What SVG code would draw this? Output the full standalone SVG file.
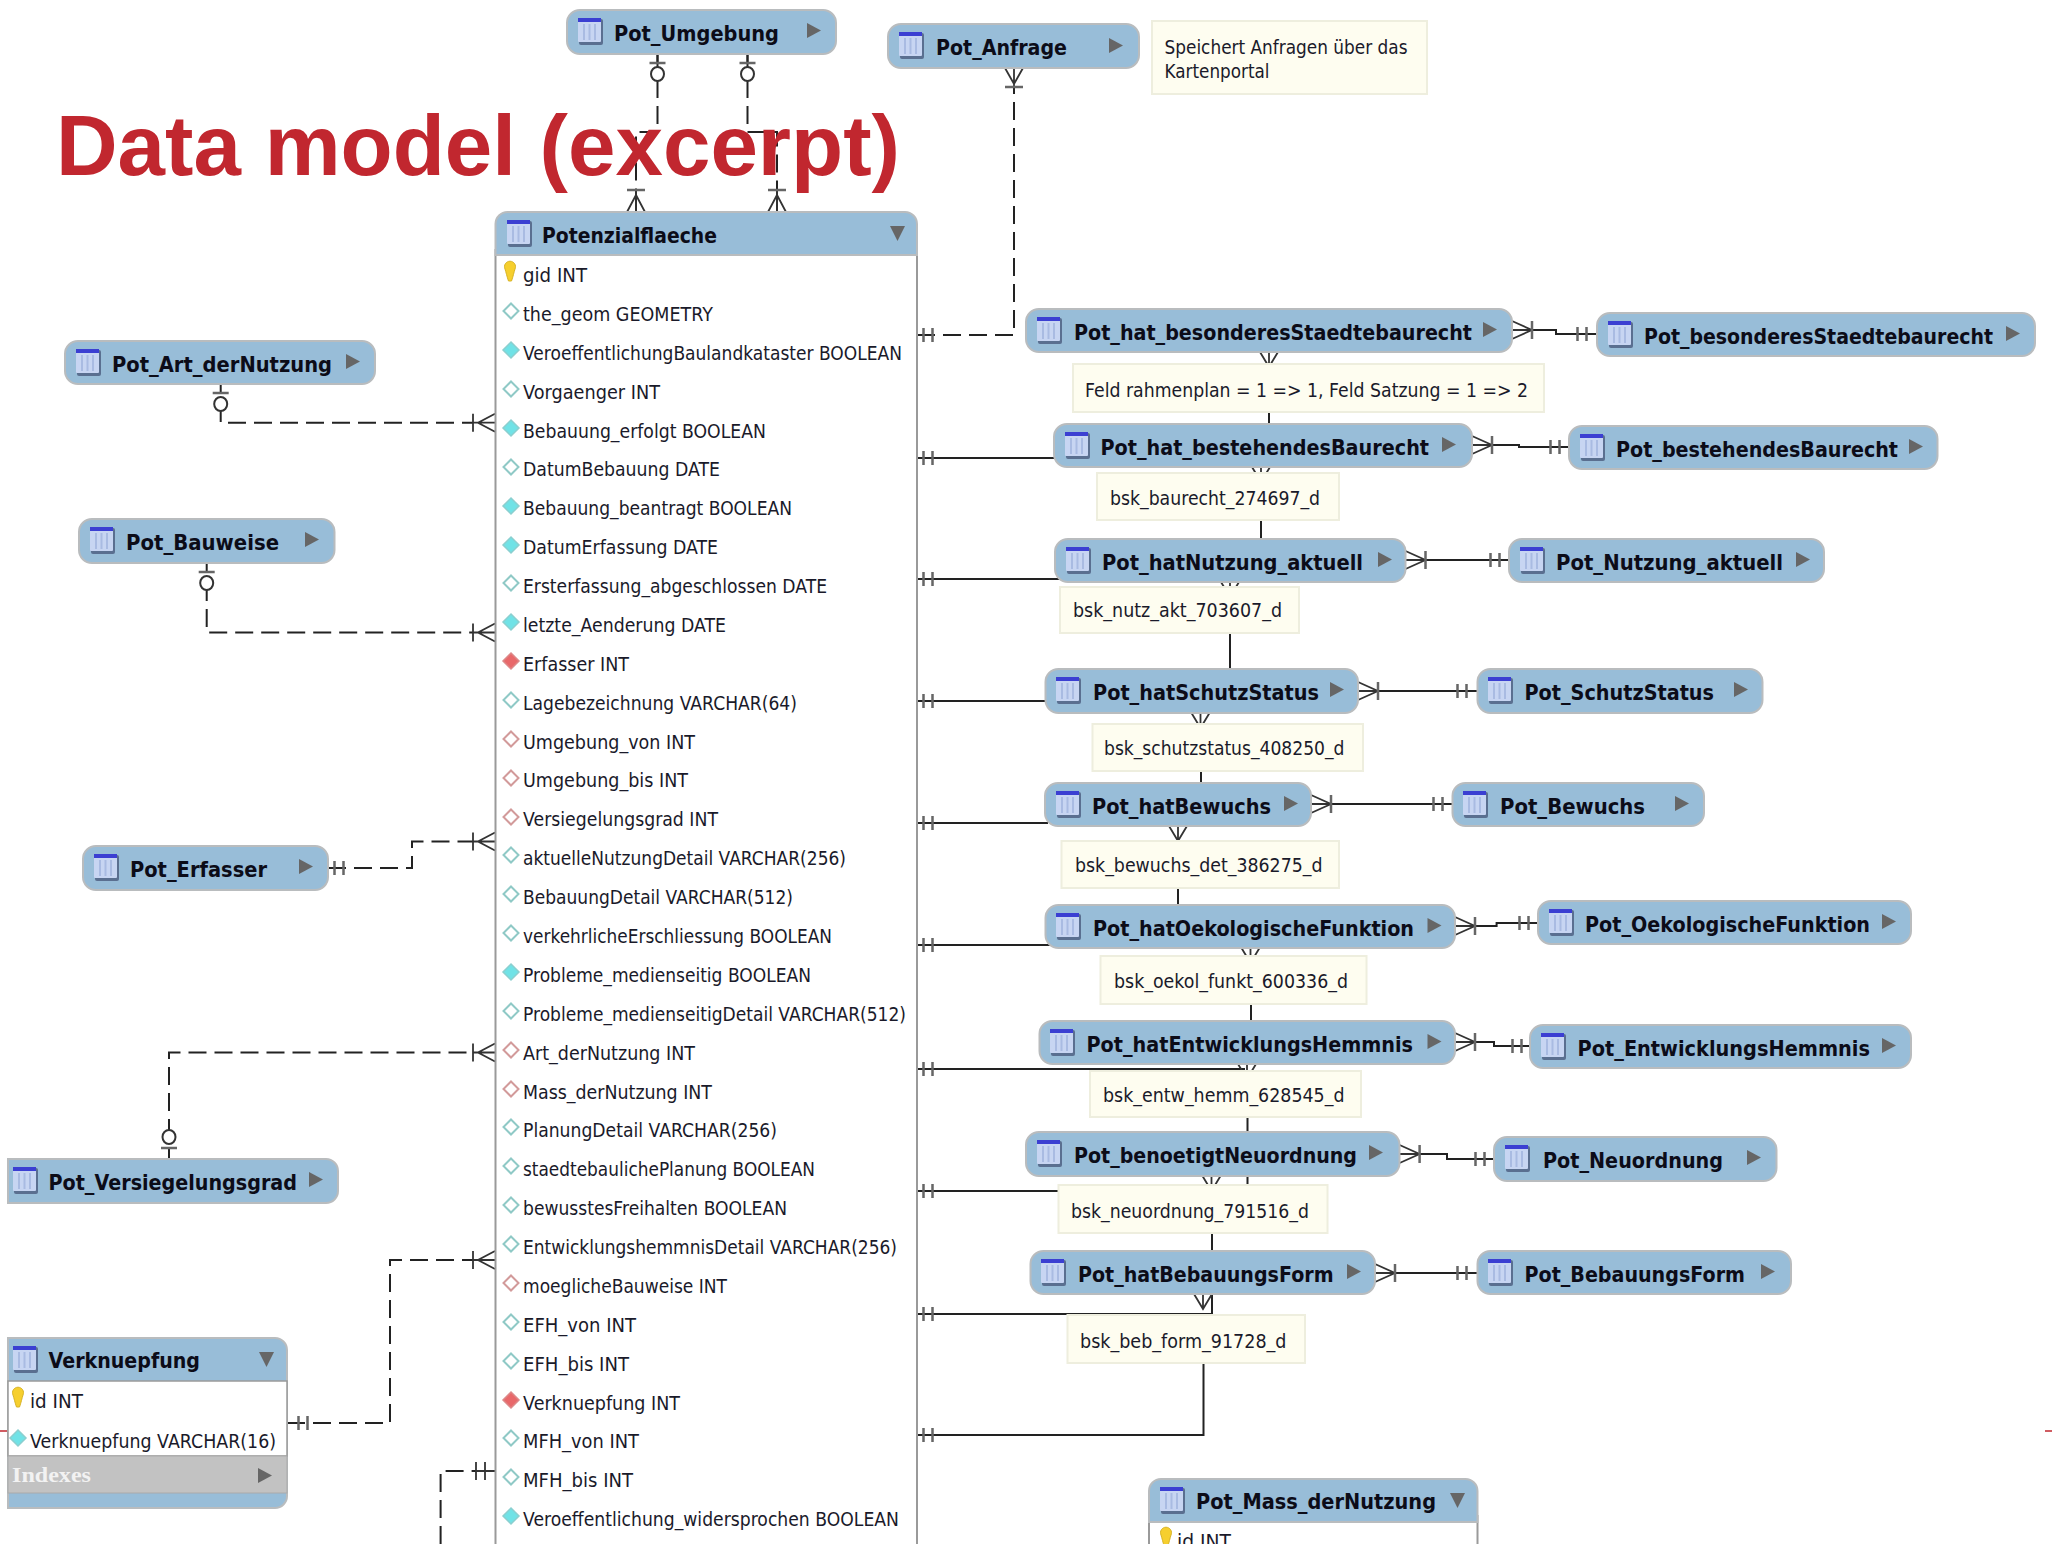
<svg xmlns="http://www.w3.org/2000/svg" width="2052" height="1544" viewBox="0 0 2052 1544">
<style>
text{font-family:"DejaVu Sans","Liberation Sans",sans-serif;fill:#1a1a2a}
.h{font-size:20.5px;font-weight:bold;fill:#0c0c18}
.r{font-size:19px}
.n{font-size:19px}
.idx{font-family:"Liberation Serif",serif;font-size:21px;font-weight:bold;fill:#f2f2f2}
.title{font-family:"Liberation Sans",Arial,sans-serif;font-size:85px;font-weight:bold;fill:#c1272f}
.b{fill:#98bdd8;stroke:#b9bcbe;stroke-width:2}
.note{fill:#fefdf0;stroke:#eeeede;stroke-width:2}
.body{fill:#fff;stroke:#9a9a9a;stroke-width:2}
.s{fill:none;stroke:#222;stroke-width:2}
.d{fill:none;stroke:#222;stroke-width:2;stroke-dasharray:18 8}
.c{fill:none;stroke:#333;stroke-width:1.8}
.g{fill:none;stroke:#666;stroke-width:2.5}
.red{fill:none;stroke:#c1272f;stroke-width:1.5}
</style>
<defs>
<g id="ico"><rect x="1" y="1" width="24" height="26" rx="2" fill="#5a6f90"/><rect width="23" height="24" rx="1" fill="#c7d5f2"/><rect width="23" height="4" fill="#3b3fd2"/><path d="M6 6V22M11.500 6V22M17 6V22" stroke="#a9bbe2" stroke-width="2"/></g>
<polygon id="ar" points="0,0 14,7.500 0,15" fill="#666"/>
<polygon id="ad" points="0,0 15,0 7.500,15" fill="#666"/>
<path id="dh" d="M0,-7.500L7.500,0L0,7.500L-7.500,0Z" fill="#fff" stroke="#8fc9c6" stroke-width="2"/>
<path id="dr" d="M0,-7.500L7.500,0L0,7.500L-7.500,0Z" fill="#fff" stroke="#d29a9a" stroke-width="2"/>
<path id="df" d="M0,-8L8,0L0,8L-8,0Z" fill="#70e2e6" stroke="#8ccfcf" stroke-width="1.500"/>
<path id="dx" d="M0,-8L8,0L0,8L-8,0Z" fill="#e8686a" stroke="#d88" stroke-width="1.500"/>
<path id="key" d="M-5,-13a5.500,5.500 0 1 1 10,0c-1,3 -2,8 -3.500,12l-3,0c-1.500,-4 -2.500,-9 -3.500,-12Z" fill="#f6cf2e" stroke="#d8b324" stroke-width="1"/>
<g id="cr"><path class="c" d="M0,-9L20,0L0,9M0,0H20"/><path class="g" d="M20,-9V9"/></g>
<g id="cd"><path class="c" d="M-9,0L0,15L9,0M0,0V15"/></g>
<g id="cl"><path class="c" d="M0,-9L-17,0L0,9M0,0H-22"/><path class="c" d="M-22,-9V9"/></g>
<g id="cu"><path class="c" d="M-9,0L0,-17L9,0M0,0V-22"/><path class="g" d="M-9,-22H9"/></g>
<g id="db"><path class="g" d="M-4.500,-7V7M4.500,-7V7"/></g>
<g id="zo"><path class="g" d="M-8,-11H8"/><ellipse rx="6.500" ry="7" fill="#fff" stroke="#333" stroke-width="2"/></g>
</defs>
<g id="connectors">
<path class="d" d="M657.500,54V132H636V190"/>
<path class="d" d="M747.500,54V132H777V190"/>
<path class="s" d="M657.500,54V62M747.500,54V62M636,190V212M777,190V212"/>
<use href="#zo" x="657.500" y="74"/><use href="#zo" x="747.500" y="74"/>
<use href="#cu" x="636" y="212"/><use href="#cu" x="777" y="212"/>
<path class="d" d="M917,335H1014V88"/>
<path class="c" d="M1005,68L1014,84L1023,68M1014,68V88"/><path class="g" d="M1005,87H1023"/>
<use href="#db" x="928" y="335"/>
<path class="d" d="M220.700,404V422.700H473"/><path class="s" d="M220.700,384V394"/>
<use href="#zo" x="220.700" y="404"/><use href="#cl" x="495" y="422.700"/>
<path class="d" d="M206.700,583V632.500H473"/><path class="s" d="M206.700,562V572"/>
<use href="#zo" x="206.700" y="583"/><use href="#cl" x="495" y="632.500"/>
<path class="d" d="M328,868H412V841.500H473"/>
<use href="#db" x="339" y="868"/><use href="#cl" x="495" y="841.500"/>
<path class="d" d="M169,1137V1052.500H473"/><path class="s" d="M169,1158V1148"/>
<use href="#zo" transform="translate(169,1137) scale(1,-1)"/><use href="#cl" x="495" y="1052.500"/>
<path class="d" d="M287,1423H390V1260H473"/>
<use href="#db" x="303" y="1423"/><use href="#cl" x="495" y="1260"/>
<path class="d" d="M440.600,1544V1471H476"/><path class="c" d="M476,1471H495M476,1462V1480M485,1462V1480"/>
<path class="s" d="M917,458H1054M917,579H1060M917,701H1046M917,823H1048M917,945H1050M917,1069H1245M917,1191H1060M917,1314H1212V1294M917,1435H1203.500V1363"/>
<use href="#db" x="928" y="458"/><use href="#db" x="928" y="579"/><use href="#db" x="928" y="701"/><use href="#db" x="928" y="823"/><use href="#db" x="928" y="945"/><use href="#db" x="928" y="1069"/><use href="#db" x="928" y="1191"/><use href="#db" x="928" y="1314"/><use href="#db" x="928" y="1435"/>
<path class="s" d="M1269,364V424M1261,473V539M1230,587V669M1201,725V783M1178,841V905M1251,956V1021M1247.500,1071V1185M1212,1186V1251"/>
<use href="#cd" x="1269" y="352"/><use href="#cd" x="1261" y="467"/><use href="#cd" x="1230" y="582"/><use href="#cd" x="1200.500" y="713"/><use href="#cd" x="1178" y="826"/><use href="#cd" x="1250.500" y="948"/><use href="#cd" x="1247" y="1064"/><use href="#cd" x="1211.500" y="1176"/><use href="#cd" x="1203" y="1294"/>
<path class="s" d="M1532,330H1556V334H1597M1491,445H1519V447H1569M1425,560H1509M1378,691H1477.500M1332,804H1452.500M1475,926H1496.600V923H1538M1475,1042H1494V1046H1530M1419,1154H1447V1159H1494M1396,1273H1477.500"/>
<use href="#cr" x="1512" y="330"/><use href="#cr" x="1472" y="445"/><use href="#cr" x="1405.500" y="560"/><use href="#cr" x="1358" y="691"/><use href="#cr" x="1311" y="804"/><use href="#cr" x="1455" y="926"/><use href="#cr" x="1455" y="1042"/><use href="#cr" x="1399.600" y="1154"/><use href="#cr" x="1375" y="1273"/>
<use href="#db" x="1582" y="334"/><use href="#db" x="1555" y="447"/><use href="#db" x="1495" y="560"/><use href="#db" x="1462" y="691"/><use href="#db" x="1438" y="804"/><use href="#db" x="1524" y="923"/><use href="#db" x="1517" y="1046"/><use href="#db" x="1480" y="1159"/><use href="#db" x="1462" y="1273"/>
<path class="red" d="M0,1431H8M2045,1431H2052"/>
</g>
<g id="Pot_Umgebung"><rect class="b" x="567" y="10" width="269" height="44" rx="13"/><use href="#ico" x="578" y="18"/><text class="h" x="614" y="41" textLength="165" lengthAdjust="spacingAndGlyphs">Pot_Umgebung</text><use href="#ar" x="807" y="23"/></g>
<g id="Pot_Anfrage"><rect class="b" x="888" y="24" width="251" height="44" rx="13"/><use href="#ico" x="899" y="32"/><text class="h" x="936" y="55" textLength="131" lengthAdjust="spacingAndGlyphs">Pot_Anfrage</text><use href="#ar" x="1109" y="38"/></g>
<g id="note_anfrage"><rect class="note" x="1152" y="21" width="275" height="73"/><text class="n" x="1164.500" y="54" textLength="243" lengthAdjust="spacingAndGlyphs">Speichert Anfragen über das</text><text class="n" x="1164.500" y="78" textLength="105" lengthAdjust="spacingAndGlyphs">Kartenportal</text></g>
<g id="Potenzialflaeche"><rect class="body" x="495.500" y="250" width="421.500" height="1310"/><path class="b" d="M495.500,255V224a12,12 0 0 1 12,-12H905a12,12 0 0 1 12,12V255Z"/><use href="#ico" x="507" y="220"/><text class="h" x="542" y="243" textLength="175" lengthAdjust="spacingAndGlyphs">Potenzialflaeche</text><use href="#ad" x="890" y="226"/>
<use href="#key" x="510" y="282"/><text class="r" x="523" y="282" textLength="64" lengthAdjust="spacingAndGlyphs">gid INT</text>
<use href="#dh" x="511" y="311"/><text class="r" x="523" y="320.900" textLength="190" lengthAdjust="spacingAndGlyphs">the_geom GEOMETRY</text>
<use href="#df" x="511" y="350"/><text class="r" x="523" y="359.800" textLength="379" lengthAdjust="spacingAndGlyphs">VeroeffentlichungBaulandkataster BOOLEAN</text>
<use href="#dh" x="511" y="389"/><text class="r" x="523" y="398.600" textLength="137" lengthAdjust="spacingAndGlyphs">Vorgaenger INT</text>
<use href="#df" x="511" y="428"/><text class="r" x="523" y="437.500" textLength="243" lengthAdjust="spacingAndGlyphs">Bebauung_erfolgt BOOLEAN</text>
<use href="#dh" x="511" y="467"/><text class="r" x="523" y="476.400" textLength="197" lengthAdjust="spacingAndGlyphs">DatumBebauung DATE</text>
<use href="#df" x="511" y="506"/><text class="r" x="523" y="515.300" textLength="269" lengthAdjust="spacingAndGlyphs">Bebauung_beantragt BOOLEAN</text>
<use href="#df" x="511" y="545"/><text class="r" x="523" y="554.200" textLength="195" lengthAdjust="spacingAndGlyphs">DatumErfassung DATE</text>
<use href="#dh" x="511" y="583"/><text class="r" x="523" y="593" textLength="304" lengthAdjust="spacingAndGlyphs">Ersterfassung_abgeschlossen DATE</text>
<use href="#df" x="511" y="622"/><text class="r" x="523" y="631.900" textLength="203" lengthAdjust="spacingAndGlyphs">letzte_Aenderung DATE</text>
<use href="#dx" x="511" y="661"/><text class="r" x="523" y="670.800" textLength="106" lengthAdjust="spacingAndGlyphs">Erfasser INT</text>
<use href="#dh" x="511" y="700"/><text class="r" x="523" y="709.700" textLength="274" lengthAdjust="spacingAndGlyphs">Lagebezeichnung VARCHAR(64)</text>
<use href="#dr" x="511" y="739"/><text class="r" x="523" y="748.600" textLength="172" lengthAdjust="spacingAndGlyphs">Umgebung_von INT</text>
<use href="#dr" x="511" y="778"/><text class="r" x="523" y="787.400" textLength="165" lengthAdjust="spacingAndGlyphs">Umgebung_bis INT</text>
<use href="#dr" x="511" y="817"/><text class="r" x="523" y="826.300" textLength="195" lengthAdjust="spacingAndGlyphs">Versiegelungsgrad INT</text>
<use href="#dh" x="511" y="855"/><text class="r" x="523" y="865.200" textLength="323" lengthAdjust="spacingAndGlyphs">aktuelleNutzungDetail VARCHAR(256)</text>
<use href="#dh" x="511" y="894"/><text class="r" x="523" y="904.100" textLength="270" lengthAdjust="spacingAndGlyphs">BebauungDetail VARCHAR(512)</text>
<use href="#dh" x="511" y="933"/><text class="r" x="523" y="943" textLength="309" lengthAdjust="spacingAndGlyphs">verkehrlicheErschliessung BOOLEAN</text>
<use href="#df" x="511" y="972"/><text class="r" x="523" y="981.800" textLength="288" lengthAdjust="spacingAndGlyphs">Probleme_medienseitig BOOLEAN</text>
<use href="#dh" x="511" y="1011"/><text class="r" x="523" y="1020.700" textLength="383" lengthAdjust="spacingAndGlyphs">Probleme_medienseitigDetail VARCHAR(512)</text>
<use href="#dr" x="511" y="1050"/><text class="r" x="523" y="1059.600" textLength="172" lengthAdjust="spacingAndGlyphs">Art_derNutzung INT</text>
<use href="#dr" x="511" y="1089"/><text class="r" x="523" y="1098.500" textLength="189" lengthAdjust="spacingAndGlyphs">Mass_derNutzung INT</text>
<use href="#dh" x="511" y="1127"/><text class="r" x="523" y="1137.400" textLength="254" lengthAdjust="spacingAndGlyphs">PlanungDetail VARCHAR(256)</text>
<use href="#dh" x="511" y="1166"/><text class="r" x="523" y="1176.200" textLength="292" lengthAdjust="spacingAndGlyphs">staedtebaulichePlanung BOOLEAN</text>
<use href="#dh" x="511" y="1205"/><text class="r" x="523" y="1215.100" textLength="264" lengthAdjust="spacingAndGlyphs">bewusstesFreihalten BOOLEAN</text>
<use href="#dh" x="511" y="1244"/><text class="r" x="523" y="1254" textLength="374" lengthAdjust="spacingAndGlyphs">EntwicklungshemmnisDetail VARCHAR(256)</text>
<use href="#dr" x="511" y="1283"/><text class="r" x="523" y="1292.900" textLength="204" lengthAdjust="spacingAndGlyphs">moeglicheBauweise INT</text>
<use href="#dh" x="511" y="1322"/><text class="r" x="523" y="1331.800" textLength="113" lengthAdjust="spacingAndGlyphs">EFH_von INT</text>
<use href="#dh" x="511" y="1361"/><text class="r" x="523" y="1370.600" textLength="106" lengthAdjust="spacingAndGlyphs">EFH_bis INT</text>
<use href="#dx" x="511" y="1400"/><text class="r" x="523" y="1409.500" textLength="157" lengthAdjust="spacingAndGlyphs">Verknuepfung INT</text>
<use href="#dh" x="511" y="1438"/><text class="r" x="523" y="1448.400" textLength="116" lengthAdjust="spacingAndGlyphs">MFH_von INT</text>
<use href="#dh" x="511" y="1477"/><text class="r" x="523" y="1487.300" textLength="110" lengthAdjust="spacingAndGlyphs">MFH_bis INT</text>
<use href="#df" x="511" y="1516"/><text class="r" x="523" y="1526.200" textLength="376" lengthAdjust="spacingAndGlyphs">Veroeffentlichung_widersprochen BOOLEAN</text>
</g>
<g id="Pot_Art_derNutzung"><rect class="b" x="65" y="341" width="310" height="43" rx="13"/><use href="#ico" x="76" y="349"/><text class="h" x="112" y="372" textLength="220" lengthAdjust="spacingAndGlyphs">Pot_Art_derNutzung</text><use href="#ar" x="346" y="354"/></g>
<g id="Pot_Bauweise"><rect class="b" x="79" y="519" width="255.500" height="44" rx="13"/><use href="#ico" x="90" y="527"/><text class="h" x="126" y="550" textLength="153" lengthAdjust="spacingAndGlyphs">Pot_Bauweise</text><use href="#ar" x="305" y="532"/></g>
<g id="Pot_Erfasser"><rect class="b" x="83" y="846" width="245" height="44" rx="13"/><use href="#ico" x="94" y="854"/><text class="h" x="130" y="877" textLength="137" lengthAdjust="spacingAndGlyphs">Pot_Erfasser</text><use href="#ar" x="299" y="859"/></g>
<g id="Pot_Versiegelungsgrad"><path class="b" d="M8,1159H326a12,12 0 0 1 12,12V1191a12,12 0 0 1 -12,12H8Z"/><use href="#ico" x="13" y="1167"/><text class="h" x="48.500" y="1190" textLength="248.500" lengthAdjust="spacingAndGlyphs">Pot_Versiegelungsgrad</text><use href="#ar" x="309" y="1172"/></g>
<g id="Verknuepfung"><path class="b" d="M8,1338H275a12,12 0 0 1 12,12V1496a12,12 0 0 1 -12,12H8Z"/><rect x="8" y="1381" width="279" height="75" fill="#fff" stroke="#9a9a9a" stroke-width="1.500"/><rect x="8" y="1456" width="279" height="37" fill="#c2c2c2" stroke="#aaa" stroke-width="1"/><use href="#ico" x="13" y="1346"/><text class="h" x="48.500" y="1368" textLength="151.500" lengthAdjust="spacingAndGlyphs">Verknuepfung</text><use href="#ad" x="259" y="1352"/>
<use href="#key" x="18" y="1408"/><text class="r" x="30" y="1408" textLength="53" lengthAdjust="spacingAndGlyphs">id INT</text>
<use href="#df" x="18" y="1438"/><text class="r" x="30" y="1448" textLength="246" lengthAdjust="spacingAndGlyphs">Verknuepfung VARCHAR(16)</text>
<text class="idx" x="12" y="1482" textLength="79" lengthAdjust="spacingAndGlyphs">Indexes</text><use href="#ar" x="258" y="1468"/></g>
<g id="Pot_hat_besonderesStaedtebaurecht"><rect class="b" x="1026" y="309" width="486" height="43" rx="13"/><use href="#ico" x="1037" y="317"/><text class="h" x="1074" y="340" textLength="398" lengthAdjust="spacingAndGlyphs">Pot_hat_besonderesStaedtebaurecht</text><use href="#ar" x="1483" y="322"/></g>
<g id="Pot_besonderesStaedtebaurecht"><rect class="b" x="1597" y="313" width="438" height="43" rx="13"/><use href="#ico" x="1608" y="321"/><text class="h" x="1644" y="344" textLength="349" lengthAdjust="spacingAndGlyphs">Pot_besonderesStaedtebaurecht</text><use href="#ar" x="2006" y="326"/></g>
<g id="note_rahmenplan"><rect class="note" x="1073" y="364" width="471" height="48"/><text class="n" x="1085" y="397" textLength="443" lengthAdjust="spacingAndGlyphs">Feld rahmenplan = 1 =&gt; 1, Feld Satzung = 1 =&gt; 2</text></g>
<g id="Pot_hat_bestehendesBaurecht"><rect class="b" x="1054" y="424" width="418" height="43" rx="13"/><use href="#ico" x="1065" y="432"/><text class="h" x="1100.500" y="455" textLength="328.500" lengthAdjust="spacingAndGlyphs">Pot_hat_bestehendesBaurecht</text><use href="#ar" x="1442" y="437"/></g>
<g id="Pot_bestehendesBaurecht"><rect class="b" x="1569" y="426" width="368.500" height="43" rx="13"/><use href="#ico" x="1580" y="434"/><text class="h" x="1616" y="457" textLength="282" lengthAdjust="spacingAndGlyphs">Pot_bestehendesBaurecht</text><use href="#ar" x="1909" y="439"/></g>
<g id="note_baurecht"><rect class="note" x="1097" y="473" width="242" height="47"/><text class="n" x="1110" y="505" textLength="210" lengthAdjust="spacingAndGlyphs">bsk_baurecht_274697_d</text></g>
<g id="Pot_hatNutzung_aktuell"><rect class="b" x="1055" y="539" width="350.500" height="43" rx="13"/><use href="#ico" x="1066" y="547"/><text class="h" x="1102" y="570" textLength="261" lengthAdjust="spacingAndGlyphs">Pot_hatNutzung_aktuell</text><use href="#ar" x="1378" y="552"/></g>
<g id="Pot_Nutzung_aktuell"><rect class="b" x="1509" y="539" width="315" height="43" rx="13"/><use href="#ico" x="1520" y="547"/><text class="h" x="1556" y="570" textLength="227" lengthAdjust="spacingAndGlyphs">Pot_Nutzung_aktuell</text><use href="#ar" x="1796" y="552"/></g>
<g id="note_nutz"><rect class="note" x="1060" y="587" width="239" height="46"/><text class="n" x="1073" y="617" textLength="209" lengthAdjust="spacingAndGlyphs">bsk_nutz_akt_703607_d</text></g>
<g id="Pot_hatSchutzStatus"><rect class="b" x="1045.500" y="669" width="312.500" height="44" rx="13"/><use href="#ico" x="1056" y="677"/><text class="h" x="1093" y="700" textLength="226" lengthAdjust="spacingAndGlyphs">Pot_hatSchutzStatus</text><use href="#ar" x="1330" y="682"/></g>
<g id="Pot_SchutzStatus"><rect class="b" x="1477.500" y="669" width="285" height="44" rx="13"/><use href="#ico" x="1488" y="677"/><text class="h" x="1524.500" y="700" textLength="189.500" lengthAdjust="spacingAndGlyphs">Pot_SchutzStatus</text><use href="#ar" x="1734" y="682"/></g>
<g id="note_schutz"><rect class="note" x="1092.500" y="724" width="270.500" height="47"/><text class="n" x="1104" y="755" textLength="240.500" lengthAdjust="spacingAndGlyphs">bsk_schutzstatus_408250_d</text></g>
<g id="Pot_hatBewuchs"><rect class="b" x="1045" y="783" width="266" height="43" rx="13"/><use href="#ico" x="1056" y="791"/><text class="h" x="1092" y="814" textLength="179" lengthAdjust="spacingAndGlyphs">Pot_hatBewuchs</text><use href="#ar" x="1284" y="796"/></g>
<g id="Pot_Bewuchs"><rect class="b" x="1452.500" y="783" width="251.500" height="43" rx="13"/><use href="#ico" x="1463" y="791"/><text class="h" x="1500" y="814" textLength="145" lengthAdjust="spacingAndGlyphs">Pot_Bewuchs</text><use href="#ar" x="1675" y="796"/></g>
<g id="note_bewuchs"><rect class="note" x="1061.500" y="841" width="277.500" height="47"/><text class="n" x="1075" y="872" textLength="247.500" lengthAdjust="spacingAndGlyphs">bsk_bewuchs_det_386275_d</text></g>
<g id="Pot_hatOekologischeFunktion"><rect class="b" x="1045.500" y="905" width="409.500" height="43" rx="13"/><use href="#ico" x="1056" y="913"/><text class="h" x="1093" y="936" textLength="321" lengthAdjust="spacingAndGlyphs">Pot_hatOekologischeFunktion</text><use href="#ar" x="1427.500" y="918"/></g>
<g id="Pot_OekologischeFunktion"><rect class="b" x="1538" y="901" width="373" height="43" rx="13"/><use href="#ico" x="1549" y="909"/><text class="h" x="1585" y="932" textLength="285" lengthAdjust="spacingAndGlyphs">Pot_OekologischeFunktion</text><use href="#ar" x="1882" y="914"/></g>
<g id="note_oekol"><rect class="note" x="1100.500" y="956" width="266" height="48"/><text class="n" x="1114" y="988" textLength="234" lengthAdjust="spacingAndGlyphs">bsk_oekol_funkt_600336_d</text></g>
<g id="Pot_hatEntwicklungsHemmnis"><rect class="b" x="1039.500" y="1021" width="415.500" height="43" rx="13"/><use href="#ico" x="1050" y="1029"/><text class="h" x="1086.500" y="1052" textLength="326.500" lengthAdjust="spacingAndGlyphs">Pot_hatEntwicklungsHemmnis</text><use href="#ar" x="1427.500" y="1034"/></g>
<g id="Pot_EntwicklungsHemmnis"><rect class="b" x="1530" y="1025" width="381" height="43" rx="13"/><use href="#ico" x="1541" y="1033"/><text class="h" x="1577.500" y="1056" textLength="292.500" lengthAdjust="spacingAndGlyphs">Pot_EntwicklungsHemmnis</text><use href="#ar" x="1882" y="1038"/></g>
<g id="note_entw"><rect class="note" x="1090" y="1071" width="271" height="46"/><text class="n" x="1103" y="1102" textLength="241.500" lengthAdjust="spacingAndGlyphs">bsk_entw_hemm_628545_d</text></g>
<g id="Pot_benoetigtNeuordnung"><rect class="b" x="1026" y="1132" width="373.500" height="44" rx="13"/><use href="#ico" x="1037" y="1140"/><text class="h" x="1074" y="1163" textLength="283" lengthAdjust="spacingAndGlyphs">Pot_benoetigtNeuordnung</text><use href="#ar" x="1369" y="1145"/></g>
<g id="Pot_Neuordnung"><rect class="b" x="1494" y="1137" width="282.500" height="44" rx="13"/><use href="#ico" x="1505" y="1145"/><text class="h" x="1543" y="1168" textLength="180" lengthAdjust="spacingAndGlyphs">Pot_Neuordnung</text><use href="#ar" x="1747" y="1150"/></g>
<g id="note_neuordnung"><rect class="note" x="1058.500" y="1185" width="269" height="48"/><text class="n" x="1071" y="1218" textLength="238" lengthAdjust="spacingAndGlyphs">bsk_neuordnung_791516_d</text></g>
<g id="Pot_hatBebauungsForm"><rect class="b" x="1030.500" y="1251" width="344.500" height="43" rx="13"/><use href="#ico" x="1041" y="1259"/><text class="h" x="1078" y="1282" textLength="255.500" lengthAdjust="spacingAndGlyphs">Pot_hatBebauungsForm</text><use href="#ar" x="1347" y="1264"/></g>
<g id="Pot_BebauungsForm"><rect class="b" x="1477.500" y="1251" width="313.500" height="43" rx="13"/><use href="#ico" x="1488" y="1259"/><text class="h" x="1524.500" y="1282" textLength="220.500" lengthAdjust="spacingAndGlyphs">Pot_BebauungsForm</text><use href="#ar" x="1761" y="1264"/></g>
<g id="note_bebauung"><rect class="note" x="1067.500" y="1315" width="237.500" height="48"/><text class="n" x="1080" y="1348" textLength="206.500" lengthAdjust="spacingAndGlyphs">bsk_beb_form_91728_d</text></g>
<g id="Pot_Mass_derNutzung"><rect class="body" x="1149" y="1516" width="328.500" height="45"/><path class="b" d="M1149,1522V1491a12,12 0 0 1 12,-12H1465.500a12,12 0 0 1 12,12V1522Z"/><use href="#ico" x="1160" y="1487"/><text class="h" x="1196" y="1509" textLength="240" lengthAdjust="spacingAndGlyphs">Pot_Mass_derNutzung</text><use href="#ad" x="1450" y="1493"/><use href="#key" x="1166" y="1548"/><text class="r" x="1177" y="1548" textLength="54" lengthAdjust="spacingAndGlyphs">id INT</text></g>
<text class="title" x="56" y="175" textLength="844" lengthAdjust="spacingAndGlyphs">Data model (excerpt)</text>
</svg>
